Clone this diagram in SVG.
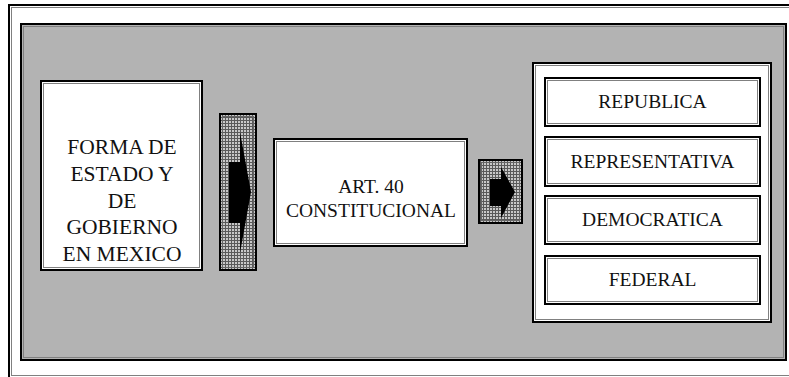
<svg xmlns="http://www.w3.org/2000/svg" width="789" height="377" viewBox="0 0 789 377">
<defs>
<pattern id="hatch" width="3" height="3" patternUnits="userSpaceOnUse">
<rect width="3" height="3" fill="#c8c8c8"/>
<rect x="0" y="0" width="3" height="1" fill="#5a5a5a"/>
<rect x="0" y="0" width="1" height="3" fill="#5a5a5a"/>
</pattern>
<style>
.outer{fill:none;stroke:#000;stroke-width:2}
.inner{fill:none;stroke:#808080;stroke-width:1}
.box{fill:#fff}
.t{font-family:"Liberation Serif","Times New Roman",serif;fill:#111;text-anchor:middle}
.big{font-size:21.5px}
.mid{font-size:19.5px}
</style>
</defs>
<rect width="789" height="377" fill="#fff"/>
<g id="frame">
<rect x="9" y="5" width="800" height="380" class="outer"/>
<rect x="11.5" y="7.5" width="800" height="368" class="inner"/>
</g>
<g id="panel">
<rect x="21" y="24" width="765" height="336" fill="#b3b3b3" stroke="#000" stroke-width="2"/>
<rect x="23.5" y="26.5" width="760" height="331" class="inner"/>
</g>
<g id="forma">
<rect x="41" y="81" width="161" height="189" class="box outer"/>
<rect x="43.5" y="83.5" width="156" height="184" class="inner"/>
<text class="t big" x="122" y="154">FORMA DE</text>
<text class="t big" x="122" y="180.5">ESTADO Y</text>
<text class="t big" x="122" y="207.5">DE</text>
<text class="t big" x="122" y="234">GOBIERNO</text>
<text class="t big" x="122" y="260.5">EN MEXICO</text>
</g>
<g id="connectors">
<g id="arrow1">
<rect x="220" y="114" width="36" height="156" fill="url(#hatch)" stroke="#000" stroke-width="2"/>
<rect x="222.5" y="116.5" width="31" height="151" fill="none" stroke="#666" stroke-width="1"/>
<polygon points="229,162 240,162 240,132 251,192 240,253 240,223 229,223" fill="#000"/>
</g>
<g id="arrow2">
<rect x="479" y="160" width="43" height="63" fill="url(#hatch)" stroke="#000" stroke-width="2"/>
<rect x="481.5" y="162.5" width="38" height="58" fill="none" stroke="#666" stroke-width="1"/>
<polygon points="490,179 501,179 501,167 515,192 501,218 501,206 490,206" fill="#000"/>
</g>
</g>
<g id="art40">
<rect x="274" y="139" width="193" height="107" class="box outer"/>
<rect x="276.5" y="141.5" width="188" height="102" class="inner"/>
<text class="t mid" x="371" y="193">ART. 40</text>
<text class="t mid" x="371" y="217">CONSTITUCIONAL</text>
</g>
<g id="container">
<rect x="533" y="63" width="238" height="259" class="box outer"/>
<rect x="535.5" y="65.5" width="233" height="254" class="inner"/>
</g>
<g id="republica">
<rect x="545" y="78" width="215" height="48" class="box outer"/>
<rect x="547.5" y="80.5" width="210" height="43" class="inner"/>
<text class="t mid" x="652.5" y="108">REPUBLICA</text>
</g>
<g id="representativa">
<rect x="545" y="137" width="215" height="49" class="box outer"/>
<rect x="547.5" y="139.5" width="210" height="44" class="inner"/>
<text class="t mid" x="652.5" y="168">REPRESENTATIVA</text>
</g>
<g id="democratica">
<rect x="545" y="196" width="215" height="48" class="box outer"/>
<rect x="547.5" y="198.5" width="210" height="43" class="inner"/>
<text class="t mid" x="652.5" y="226">DEMOCRATICA</text>
</g>
<g id="federal">
<rect x="545" y="256" width="215" height="48" class="box outer"/>
<rect x="547.5" y="258.5" width="210" height="43" class="inner"/>
<text class="t mid" x="652.5" y="286">FEDERAL</text>
</g>
</svg>
